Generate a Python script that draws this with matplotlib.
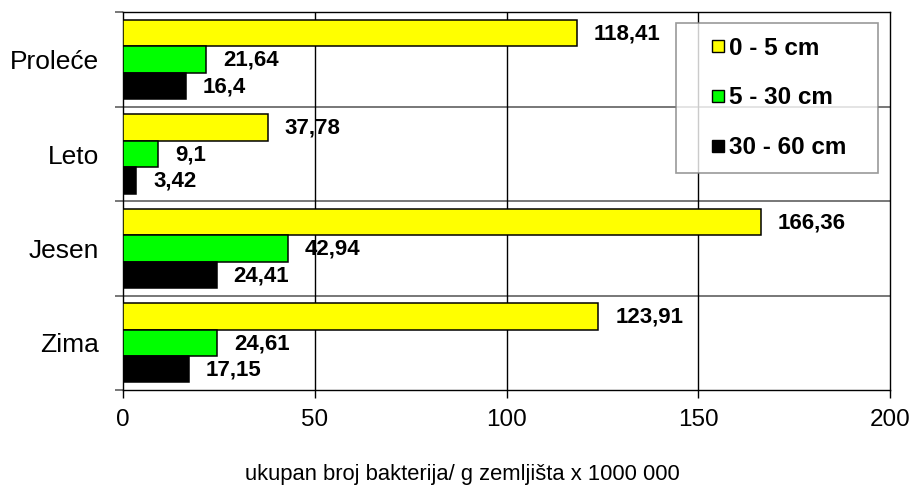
import numpy as np
import matplotlib
matplotlib.use("Agg")
import matplotlib.pyplot as plt
from matplotlib.lines import Line2D

plt.rcParams['font.family'] = ['Liberation Sans', 'DejaVu Sans']

# podaci
seasons = ["Proleće", "Leto", "Jesen", "Zima"]
depths = ["0 - 5 cm", "5 - 30 cm", "30 - 60 cm"]
d_0_5 = [118.41, 37.78, 166.36, 123.91]
d_5_30 = [21.64, 9.1, 42.94, 24.61]
d_30_60 = [16.4, 3.42, 24.41, 17.15]
labels_0_5 = ["118,41", "37,78", "166,36", "123,91"]
labels_5_30 = ["21,64", "9,1", "42,94", "24,61"]
labels_30_60 = ["16,4", "3,42", "24,41", "17,15"]
xticks = [0, 50, 100, 150, 200]

colors = ["#FFFF00", "#00FF00", "#000000"]

fig = plt.figure(figsize=(9.16, 4.86), dpi=100)
ax = fig.add_axes([0.1343, 0.1975, 0.8373, 0.777])

y = np.arange(len(seasons))
h = 0.28
series = [d_0_5, d_5_30, d_30_60]
texts = [labels_0_5, labels_5_30, labels_30_60]
for i, (vals, labs) in enumerate(zip(series, texts)):
    off = (i - 1) * h
    ax.barh(y + off, vals, height=h, color=colors[i], edgecolor="black",
            linewidth=1.1, zorder=3)
    for yy, v, t in zip(y + off, vals, labs):
        ax.annotate(t, (v, yy), xytext=(12.2, -0.5), textcoords="offset points",
                    ha="left", va="center", fontsize=16, fontweight="bold",
                    zorder=4)

ax.set_xlim(0, 200)
ax.set_ylim(len(seasons) - 0.5, -0.5)
ax.set_xticks(xticks)
ax.set_xticklabels([str(t) for t in xticks])
ax.tick_params(axis="x", length=6, width=1, pad=8, labelsize=17.5)

# granice kategorija kao glavne oznake, nazivi kao sporedne
bounds = np.arange(len(seasons) + 1) - 0.5
ax.set_yticks(bounds)
ax.set_yticklabels([])
ax.tick_params(axis="y", which="major", length=6, width=1.2, color="#606060")
ax.set_yticks(y, minor=True)
ax.set_yticklabels(seasons, minor=True)
ax.tick_params(axis="y", which="minor", length=0, pad=17, labelsize=19)

for b in bounds[1:-1]:
    ax.axhline(b, color="#606060", linewidth=1.2, zorder=1)
for t in xticks[1:-1]:
    ax.axvline(t, color="black", linewidth=1, zorder=1)

for s in ax.spines.values():
    s.set_color("black")
    s.set_linewidth(1)

ax.set_xlabel("ukupan broj bakterija/ g zemljišta x 1000 000", fontsize=15.8,
              labelpad=20)
ax.xaxis.set_label_coords(0.443, -0.195)

handles = [Line2D([], [], linestyle="none", marker="s", markersize=8.4,
                  markerfacecolor=c, markeredgecolor="black",
                  markeredgewidth=1) for c in colors]
leg = ax.legend(handles, depths, loc="upper left", mode="expand",
                bbox_to_anchor=(0.7206, 0.5, 0.2638, 0.473), borderaxespad=0,
                borderpad=0.58, handlelength=2.28, handletextpad=-0.65,
                labelspacing=1.1, numpoints=1, fancybox=False,
                prop={"size": 17.5, "weight": "bold"})
leg.get_frame().set_edgecolor("#808080")
leg.get_frame().set_linewidth(1.2)
leg.set_zorder(5)

fig.savefig("out.png", dpi=100)
